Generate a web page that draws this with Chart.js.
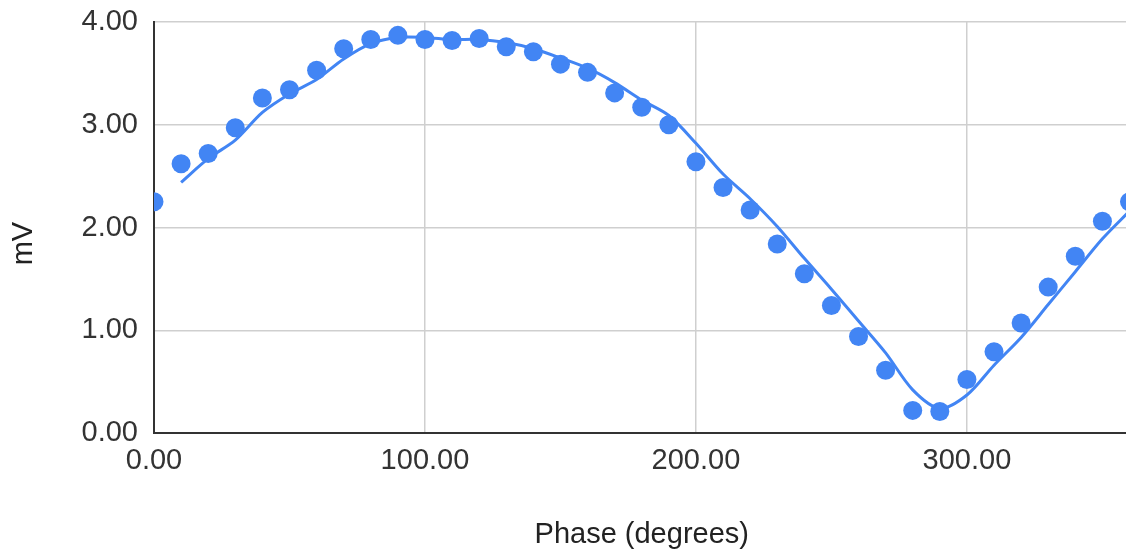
<!DOCTYPE html>
<html>
<head>
<meta charset="utf-8">
<script src="https://cdn.jsdelivr.net/npm/chart.js@4/dist/chart.umd.min.js"></script>
<style>
  html, body { margin: 0; padding: 0; background: #ffffff; overflow: hidden; }
  #wrap { width: 1139px; height: 552px; }
</style>
</head>
<body>
<div id="wrap"><canvas id="chart" width="1139" height="552"></canvas></div>
<script>
// Measured signal amplitude against phase
const phaseDeg = [0, 10, 20, 30, 40, 50, 60, 70, 80, 90, 100, 110, 120, 130, 140, 150, 160, 170, 180,
                  190, 200, 210, 220, 230, 240, 250, 260, 270, 280, 290, 300, 310, 320, 330, 340, 350, 360];
const measuredMv = [2.25, 2.62, 2.72, 2.97, 3.26, 3.34, 3.53, 3.74, 3.83, 3.87, 3.83, 3.82, 3.84, 3.76, 3.71,
                    3.59, 3.51, 3.31, 3.17, 3.00, 2.64, 2.39, 2.17, 1.84, 1.55, 1.24, 0.94, 0.61, 0.22,
                    0.21, 0.52, 0.79, 1.07, 1.42, 1.72, 2.06, 2.25];

// Trend line (two-point moving average), starting at 10 degrees
const trendPhase = [10, 20, 30, 40, 50, 60, 70, 80, 90, 100, 110, 120, 130, 140, 150, 160, 170, 180,
                    190, 200, 210, 220, 230, 240, 250, 260, 270, 280, 290, 300, 310, 320, 330, 340, 350, 360];
const trendMv = [2.44, 2.67, 2.85, 3.12, 3.30, 3.44, 3.64, 3.79, 3.85, 3.85, 3.83, 3.83, 3.80, 3.74, 3.65,
                 3.55, 3.41, 3.24, 3.09, 2.82, 2.52, 2.28, 2.01, 1.70, 1.40, 1.09, 0.78, 0.42, 0.24,
                 0.37, 0.66, 0.93, 1.25, 1.57, 1.89, 2.16];

const yTicks = [0, 1, 2, 3, 4];
const xTicks = [0, 100, 200, 300];

const BLUE = '#4285f4';
const FONT = '"Liberation Sans", Arial, sans-serif';
const FONT_SIZE = 29;

const toPoints = (xs, ys) => xs.map((x, i) => ({ x: x, y: ys[i] }));

new Chart(document.getElementById('chart'), {
  type: 'scatter',
  data: {
    datasets: [
      {
        label: 'mV',
        data: toPoints(phaseDeg, measuredMv),
        backgroundColor: BLUE,
        borderWidth: 0,
        pointRadius: 9.5,
        pointHoverRadius: 9.5,
        clip: 0,
        order: 0
      },
      {
        label: 'Trend',
        type: 'line',
        data: toPoints(trendPhase, trendMv),
        borderColor: BLUE,
        borderWidth: 3,
        pointRadius: 0,
        tension: 0.3,
        fill: false,
        clip: 0,
        order: 1
      }
    ]
  },
  options: {
    responsive: false,
    animation: false,
    layout: { padding: { top: 22, right: 1, left: 0, bottom: 0 } },
    plugins: { legend: { display: false }, tooltip: { enabled: false } },
    scales: {
      x: {
        type: 'linear',
        min: 0,
        max: 360,
        afterBuildTicks: (scale) => { scale.ticks = xTicks.map(v => ({ value: v })); },
        afterFit: (scale) => { scale.height = 119; },
        ticks: {
          callback: (v) => Number(v).toFixed(2),
          font: { family: FONT, size: FONT_SIZE },
          color: '#333333',
          padding: 11,
          maxRotation: 0
        },
        grid: { color: '#cfcfcf', lineWidth: 1.5, drawTicks: false },
        border: { color: '#333333', width: 2 },
        title: {
          display: true,
          text: 'Phase (degrees)',
          font: { family: FONT, size: FONT_SIZE },
          color: '#222222',
          padding: { top: 0, bottom: 0 }
        }
      },
      y: {
        min: 0,
        max: 4,
        afterBuildTicks: (scale) => { scale.ticks = yTicks.map(v => ({ value: v })); },
        afterFit: (scale) => {
          scale.width = 154;
          // the top label may overhang the plot area
          scale.paddingTop = 0;
          scale.paddingBottom = 0;
        },
        ticks: {
          callback: (v) => Number(v).toFixed(2),
          font: { family: FONT, size: FONT_SIZE },
          color: '#333333',
          padding: 16
        },
        grid: { color: '#cfcfcf', lineWidth: 1.5, drawTicks: false },
        border: { color: '#333333', width: 2 },
        title: {
          display: true,
          text: 'mV\u00a0\u00a0\u00a0\u00a0',
          font: { family: FONT, size: FONT_SIZE },
          color: '#222222',
          padding: { top: 7, bottom: 0 }
        }
      }
    }
  }
});
</script>
</body>
</html>
